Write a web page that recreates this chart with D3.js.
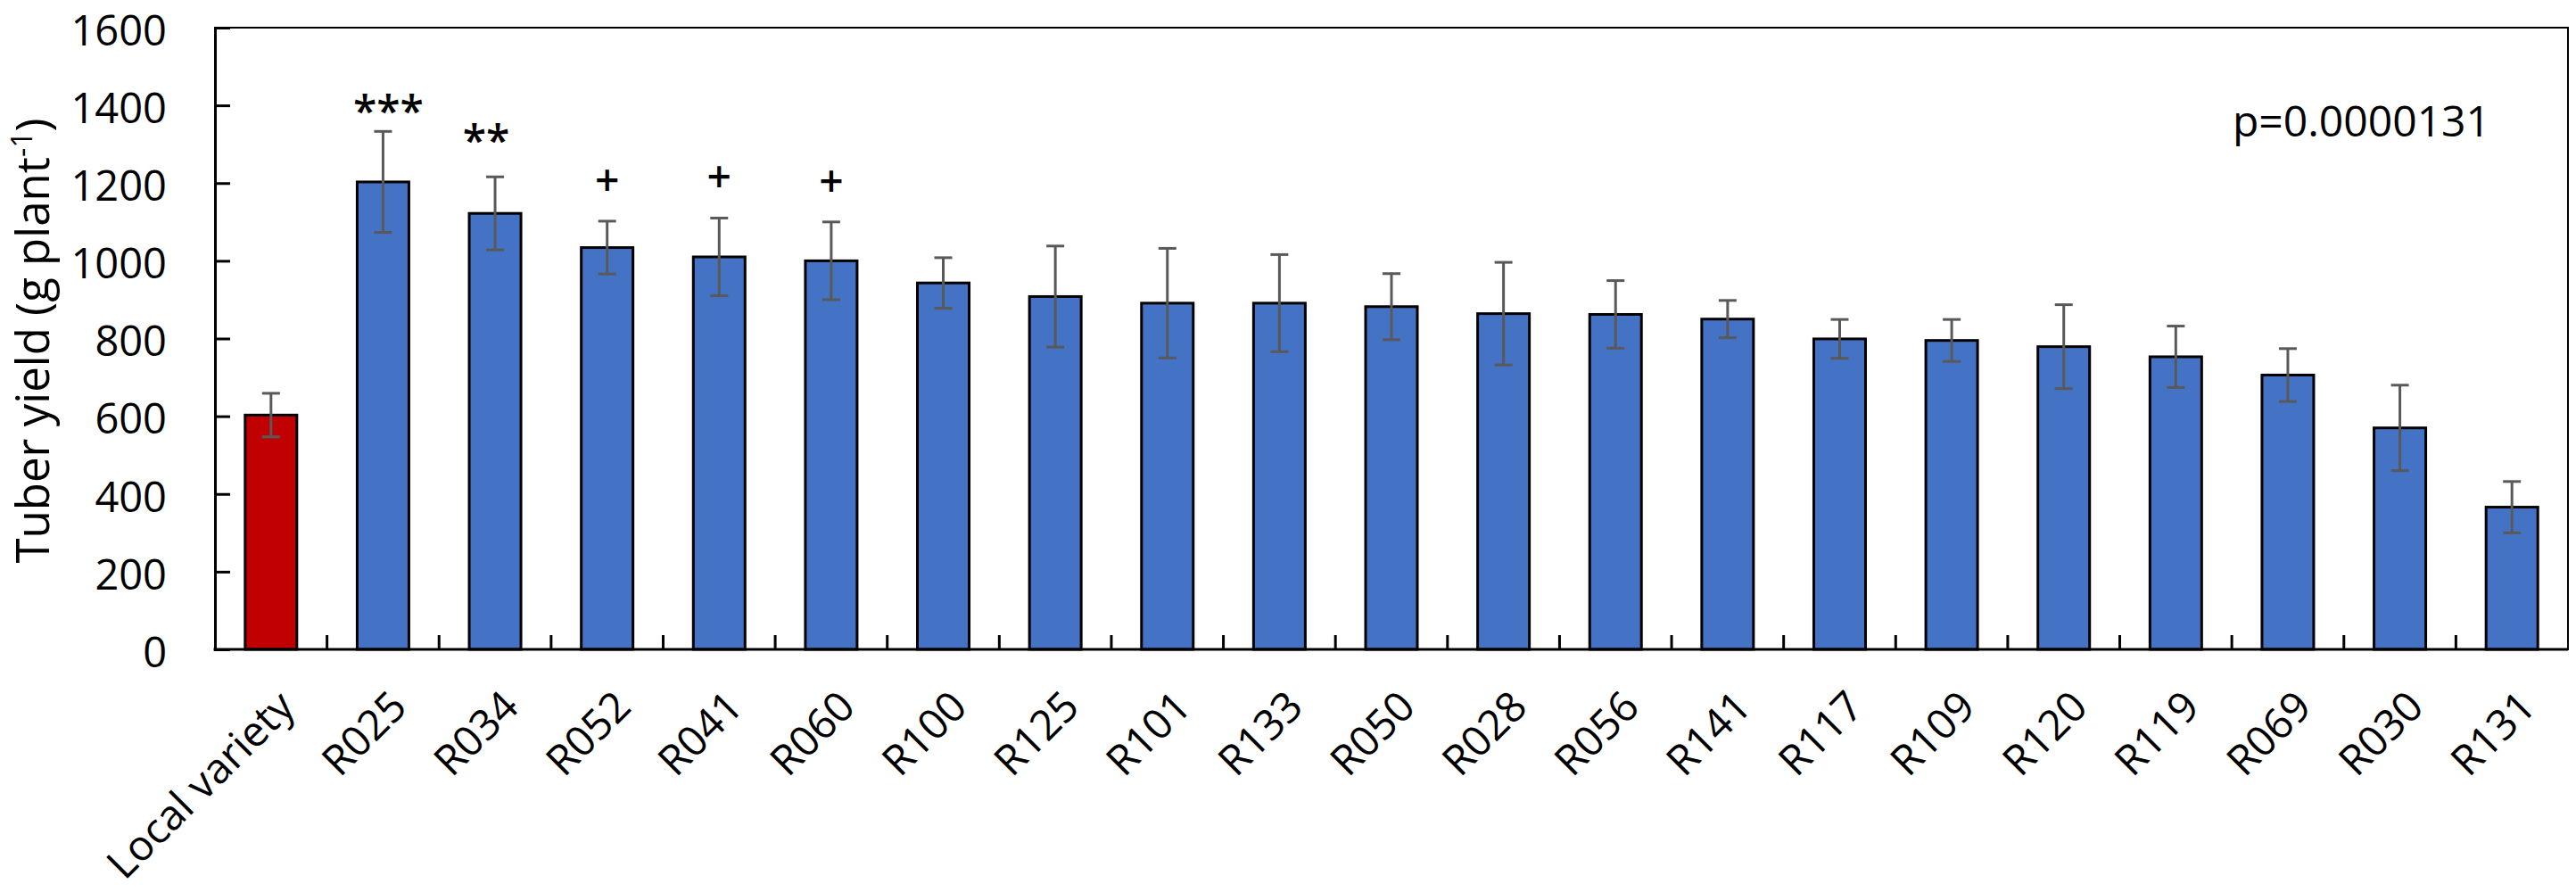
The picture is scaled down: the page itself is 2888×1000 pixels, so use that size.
<!DOCTYPE html>
<html>
<head>
<meta charset="utf-8">
<script src="https://cdn.jsdelivr.net/npm/d3@7"></script>
<style>
  html, body { margin: 0; padding: 0; background: #fff; }
  svg { display: block; font-family: "Open Sans", "Noto Sans", sans-serif; }
</style>
</head>
<body>
<svg id="chart" width="2888" height="1000"></svg>
<script>
// ---------- data ----------
const categories = ["Local variety","R025","R034","R052","R041","R060","R100","R125","R101","R133",
  "R050","R028","R056","R141","R117","R109","R120","R119","R069","R030","R131"];
const yieldMean = [603,1203,1122,1034,1010,1000,943,908,891,891,882,864,862,850,799,795,779,753,706,570,366];
const yieldErr  = [56,130,94,68,100,100,65,130,141,125,85,132,87,48,50,54,108,79,68,110,66];
const significance = ["","***","**","+","+","+","","","","","","","","","","","","","","",""];
const yTicks = [0,200,400,600,800,1000,1200,1400,1600];
const yTitle = "Tuber yield (g plant";
const yTitleSup = "-1";
const pLabel = "p=0.0000131";

// ---------- layout ----------
const W = 2888, H = 1000;
const L = 241, R = 2879, T = 31, B = 728;
const svg = d3.select("#chart");

const x = d3.scaleBand().domain(categories).range([L, R]).padding(0);
const y = d3.scaleLinear().domain([0, 1600]).range([B, T]);
const step = x.step();
const barW = 58;

const rows = categories.map((c, i) => ({c, m: yieldMean[i], e: yieldErr[i], s: significance[i], i}));

// plot border (top/right thin)
svg.append("rect").attr("x", L).attr("y", T).attr("width", R - L).attr("height", B - T)
  .attr("fill", "none").attr("stroke", "#000").attr("stroke-width", 2);

// bars
svg.append("g").selectAll("rect").data(rows).join("rect")
  .attr("x", d => x(d.c) + step / 2 - barW / 2)
  .attr("y", d => y(d.m))
  .attr("width", barW)
  .attr("height", d => y(0) - y(d.m))
  .attr("fill", d => d.i === 0 ? "#C00000" : "#4472C4")
  .attr("stroke", "#000").attr("stroke-width", 3);

// error bars
const eg = svg.append("g").attr("stroke", "#595959").attr("stroke-width", 3).attr("fill", "none");
rows.forEach(d => {
  const cx = x(d.c) + step / 2;
  eg.append("line").attr("x1", cx).attr("x2", cx).attr("y1", y(d.m + d.e)).attr("y2", y(d.m - d.e));
  eg.append("line").attr("x1", cx - 10).attr("x2", cx + 10).attr("y1", y(d.m + d.e)).attr("y2", y(d.m + d.e));
  eg.append("line").attr("x1", cx - 10).attr("x2", cx + 10).attr("y1", y(d.m - d.e)).attr("y2", y(d.m - d.e));
});

// significance marks
const gapFor = {"***": 32, "**": 50, "+": 46};
svg.append("g").selectAll("text").data(rows.filter(d => d.s)).join("text")
  .attr("x", d => x(d.c) + step / 2 + (d.s === "**" ? -10 : (d.s === "***" ? 6 : 0)))
  .attr("y", d => y(d.m + d.e) - gapFor[d.s] + (d.s === "+" ? 17 : 27))
  .attr("text-anchor", "middle")
  .attr("font-size", 48).attr("font-weight", 600).attr("fill", "#000")
  .text(d => d.s);

// y axis
const yAxis = d3.axisLeft(y).tickValues(yTicks).tickSize(-17).tickPadding(54).tickFormat(d3.format("d"));
const gy = svg.append("g").attr("transform", `translate(${L},0)`).call(yAxis);
gy.select(".domain").attr("stroke", "#000").attr("stroke-width", 3);
gy.selectAll(".tick line").attr("stroke", "#000").attr("stroke-width", 3);
gy.selectAll(".tick text").attr("font-size", 47).attr("fill", "#000")
  .attr("font-family", "'Open Sans', sans-serif").attr("dy", "0.41em");

// x axis line and between-category ticks
svg.append("line").attr("x1", L - 1.5).attr("x2", R).attr("y1", B).attr("y2", B)
  .attr("stroke", "#000").attr("stroke-width", 3);
svg.append("g").selectAll("line").data(categories.slice(1)).join("line")
  .attr("x1", d => x(d)).attr("x2", d => x(d))
  .attr("y1", B).attr("y2", B - 16)
  .attr("stroke", "#000").attr("stroke-width", 3);

// x labels
svg.append("g").selectAll("text").data(categories).join("text")
  .attr("transform", d => `translate(${x(d) + step / 2 + 29},${795}) rotate(-45)`)
  .attr("text-anchor", "end")
  .attr("font-size", 47).attr("fill", "#000")
  .text(d => d);

// y title
const tt = svg.append("text")
  .attr("transform", `translate(55,382) rotate(-90)`)
  .attr("text-anchor", "middle")
  .attr("font-size", 51).attr("fill", "#000");
tt.append("tspan").text(yTitle);
tt.append("tspan").attr("font-size", 32).attr("dy", -19).text(yTitleSup);
tt.append("tspan").attr("dy", 19).text(")");

// p value
svg.append("text").attr("x", 2503).attr("y", 153).attr("font-size", 48).attr("fill", "#000").text(pLabel);
</script>
</body>
</html>
